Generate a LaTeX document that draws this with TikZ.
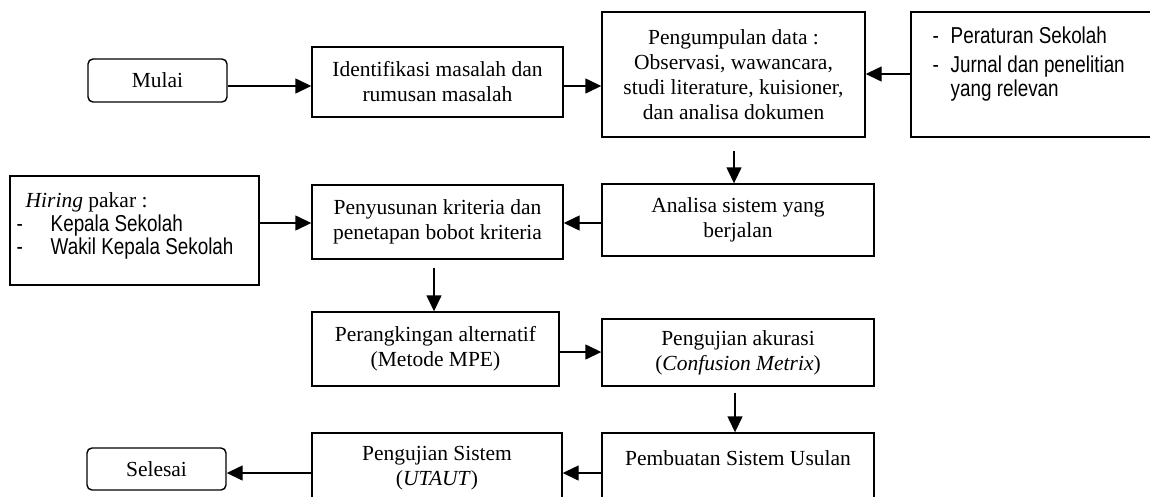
\documentclass[tikz,border=0pt]{standalone}
\usepackage{fontspec}
\setmainfont{Liberation Serif}
\newfontfamily\nsans[FakeStretch=0.82]{Liberation Sans}
\usetikzlibrary{arrows.meta}
\newcommand\serifsz{\fontsize{21.5}{25}\selectfont}
\newcommand\sanssz{\nsans\fontsize{23}{23}\selectfont}
\begin{document}
\begin{tikzpicture}[x=1pt,y=-1pt,line width=1.4pt,
  box/.style={draw,rectangle,inner sep=0pt,align=center,font=\serifsz},
  term/.style={box,rounded corners=5pt},
  txt/.style={inner sep=0pt,align=center,font=\serifsz},
  stxt/.style={inner sep=0pt,anchor=base west,font=\sanssz},
  itxt/.style={inner sep=0pt,anchor=base west,font=\serifsz},
  arr/.style={-{Triangle[length=16pt,width=15pt]}}]
\useasboundingbox (0,0) rectangle (1150,496);
\clip (0,0) rectangle (1150,496);
% nodes
\node[term,minimum width=139pt,minimum height=43pt] (mulai) at (157.5,80.5) {Mulai};
\node[box,minimum width=251pt,minimum height=70pt] (ident) at (437.5,82) {Identifikasi masalah dan\\rumusan masalah};
\node[box,minimum width=263pt,minimum height=125pt] (kumpul) at (733.5,74.5) {Pengumpulan data :\\Observasi, wawancara,\\studi literature, kuisioner,\\dan analisa dokumen};
\node[box,minimum width=264pt,minimum height=125pt] (sumber) at (1043,74.5) {};
\node[stxt] (sumber1) at (932,43.3) {\makebox[18pt][l]{-}Peraturan Sekolah};
\node[stxt] (sumber2) at (932,72.7) {\makebox[18pt][l]{-}Jurnal dan penelitian};
\node[stxt] (sumber3) at (950,96.7) {yang relevan};
\node[box,minimum width=249pt,minimum height=109pt] (hiring) at (134.5,230.5) {};
\node[itxt] (hiring1) at (25,207.7) {\textit{Hiring} pakar :};
\node[stxt] (hiring2) at (16,231) {\makebox[34pt][l]{-}Kepala Sekolah};
\node[stxt] (hiring3) at (16,254) {\makebox[34pt][l]{-}Wakil Kepala Sekolah};
\node[box,minimum width=251pt,minimum height=74pt] (susun) at (437.5,222) {Penyusunan kriteria dan\\penetapan bobot kriteria};
\node[box,minimum width=272pt,minimum height=72pt] (analisa) at (738,220) {Analisa sistem yang\\berjalan};
\node[box,minimum width=247pt,minimum height=74pt] (rangking) at (435.5,349) {Perangkingan alternatif\\(Metode MPE)};
\node[box,minimum width=272pt,minimum height=67pt] (akurasi) at (738,352.5) {Pengujian akurasi\\(\textit{Confusion Metrix})};
\node[box,minimum width=272pt,minimum height=87pt] (buat) at (738,476.5) {};
\node[txt] (buattxt) at (738,458) {Pembuatan Sistem Usulan};
\node[box,minimum width=250pt,minimum height=87pt] (uji) at (437,476.5) {};
\node[txt] (ujitxt) at (437,468.5) {Pengujian Sistem\\(\textit{UTAUT})};
\node[term,minimum width=139pt,minimum height=42pt] (selesai) at (156.5,469) {Selesai};
% connectors
\draw[arr] (mulai.east |- 0,86) -- (ident.west |- 0,86);
\draw[arr] (ident.east |- 0,86) -- (kumpul.west |- 0,86);
\draw[arr] (sumber.west |- 0,74) -- (kumpul.east |- 0,74);
\draw[arr,shorten <=13pt] (kumpul.south -| 734,0) -- (analisa.north -| 734,0);
\draw[arr] (analisa.west |- 0,223) -- (susun.east |- 0,223);
\draw[arr] (hiring.east |- 0,223) -- (susun.west |- 0,223);
\draw[arr,shorten <=8pt] (susun.south -| 434,0) -- (rangking.north -| 434,0);
\draw[arr] (rangking.east |- 0,352) -- (akurasi.west |- 0,352);
\draw[arr,shorten <=6pt] (akurasi.south -| 735,0) -- (buat.north -| 735,0);
\draw[arr] (buat.west |- 0,473) -- (uji.east |- 0,473);
\draw[arr] (uji.west |- 0,473) -- (selesai.east |- 0,473);
\end{tikzpicture}
\end{document}
